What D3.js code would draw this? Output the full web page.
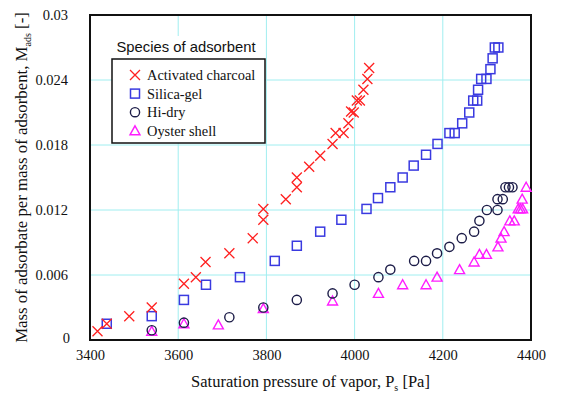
<!DOCTYPE html>
<html>
<head>
<meta charset="utf-8">
<script src="https://cdn.jsdelivr.net/npm/d3@7"></script>
<style>
  body { margin: 0; background: #fff; }
  svg { display: block; }
</style>
</head>
<body>
<div id="chart"></div>
<script>
// values, [pressure Pa, mass ratio]
const charcoal = [
  [3417, 0.0008], [3438, 0.0015], [3489, 0.0022], [3540, 0.0030], [3613, 0.0052],
  [3640, 0.0058], [3662, 0.0072], [3716, 0.0080], [3769, 0.0094], [3793, 0.0111],
  [3793, 0.0121], [3844, 0.0130], [3869, 0.0141], [3869, 0.0150], [3897, 0.0160],
  [3922, 0.0170], [3950, 0.0181], [3957, 0.0191], [3975, 0.0191], [3986, 0.0200],
  [3992, 0.0211], [3998, 0.0210], [4005, 0.0221], [4012, 0.0221], [4020, 0.0231],
  [4029, 0.0241], [4033, 0.0251]
];
const silicaGel = [
  [3438, 0.0015], [3540, 0.0022], [3613, 0.0037], [3663, 0.0051], [3740, 0.0058],
  [3819, 0.0073], [3869, 0.0087], [3922, 0.0100], [3970, 0.0111], [4027, 0.0121],
  [4053, 0.0131], [4081, 0.0141], [4109, 0.0150], [4134, 0.0161], [4162, 0.0171],
  [4188, 0.0181], [4215, 0.0191], [4227, 0.0191], [4244, 0.0200], [4260, 0.0210],
  [4269, 0.0221], [4278, 0.0221], [4280, 0.0231], [4287, 0.0241], [4299, 0.0241],
  [4308, 0.0250], [4313, 0.0260], [4318, 0.0270], [4326, 0.0270]
];
const hiDry = [
  [3540, 0.0009], [3613, 0.0016], [3716, 0.0021], [3793, 0.0030], [3869, 0.0037],
  [3950, 0.0043], [4000, 0.0051], [4054, 0.0058], [4081, 0.0065], [4135, 0.0073],
  [4162, 0.0073], [4187, 0.0080], [4215, 0.0086], [4243, 0.0094], [4271, 0.0100],
  [4283, 0.0110], [4300, 0.0120], [4324, 0.0120], [4324, 0.0130], [4336, 0.0130],
  [4342, 0.0141], [4350, 0.0141], [4358, 0.0141]
];
const oysterShell = [
  [3540, 0.0008], [3613, 0.0015], [3691, 0.0014], [3793, 0.0029], [3950, 0.0036],
  [4054, 0.0043], [4109, 0.0051], [4162, 0.0051], [4187, 0.0058], [4238, 0.0065],
  [4271, 0.0072], [4283, 0.0079], [4299, 0.0079], [4325, 0.0086], [4332, 0.0094],
  [4339, 0.0100], [4352, 0.0110], [4362, 0.0110], [4371, 0.0121], [4376, 0.0121],
  [4381, 0.0121], [4380, 0.0130], [4389, 0.0141]
];

const xTicks = [3400, 3600, 3800, 4000, 4200, 4400];
const yTicks = [0, 0.006, 0.012, 0.018, 0.024, 0.03];
const yTickLabels = ["0", "0.006", "0.012", "0.018", "0.024", "0.03"];
const seriesNames = ["Activated charcoal", "Silica-gel", "Hi-dry", "Oyster shell"];

const width = 561, height = 394;
const margin = { top: 15, right: 30, bottom: 54, left: 90 };
const serif = "'Liberation Serif', 'DejaVu Serif', serif";

const svg = d3.select("#chart").append("svg")
  .attr("width", width)
  .attr("height", height);

const x = d3.scaleLinear().domain([3400, 4400]).range([margin.left, width - margin.right]);
const y = d3.scaleLinear().domain([0, 0.03]).range([height - margin.bottom, margin.top]);

// grid lines (cyan)
svg.append("g").selectAll("line")
  .data(xTicks.slice(1, -1)).enter().append("line")
  .attr("x1", d => x(d)).attr("x2", d => x(d))
  .attr("y1", y(0)).attr("y2", y(0.03))
  .attr("stroke", "#a0eef0").attr("stroke-width", 1);
svg.append("g").selectAll("line")
  .data(yTicks.slice(1, -1)).enter().append("line")
  .attr("x1", x(3400)).attr("x2", x(4400))
  .attr("y1", d => y(d)).attr("y2", d => y(d))
  .attr("stroke", "#a0eef0").attr("stroke-width", 1);

// axes, only for labels
const xAxis = svg.append("g")
  .attr("transform", `translate(0,${y(0)})`)
  .call(d3.axisBottom(x).tickValues(xTicks).tickSize(0).tickPadding(10).tickFormat(d3.format("d")));
const yAxis = svg.append("g")
  .attr("transform", `translate(${x(3400)},0)`)
  .call(d3.axisLeft(y).tickValues(yTicks).tickSize(0).tickPadding(22)
    .tickFormat((d, i) => yTickLabels[i]));

[xAxis, yAxis].forEach(a => {
  a.select(".domain").remove();
  a.selectAll("text").attr("font-family", serif).attr("font-size", 14.5).attr("fill", "#111");
});
// the zero label sits lower, like in the original
yAxis.selectAll("text").filter(d => d === 0).attr("dy", "0.15em").attr("x", -20);

// frame
svg.append("rect")
  .attr("x", x(3400)).attr("y", y(0.03))
  .attr("width", x(4400) - x(3400)).attr("height", y(0) - y(0.03))
  .attr("fill", "none").attr("stroke", "#111").attr("stroke-width", 2);

// marker shapes
function drawMarker(g, kind) {
  if (kind === 0) {
    g.append("path").attr("d", "M-5,-5L5,5M-5,5L5,-5")
      .attr("stroke", "#ff2020").attr("stroke-width", 1.3).attr("fill", "none");
  } else if (kind === 1) {
    g.append("rect").attr("x", -4.5).attr("y", -4.5).attr("width", 9).attr("height", 9)
      .attr("stroke", "#3a3ae0").attr("stroke-width", 1.5).attr("fill", "none");
  } else if (kind === 2) {
    g.append("circle").attr("r", 4.6)
      .attr("stroke", "#1c1c48").attr("stroke-width", 1.4).attr("fill", "none");
  } else {
    g.append("path").attr("d", "M0,-5L5,4L-5,4Z")
      .attr("stroke", "#ff1cff").attr("stroke-width", 1.4).attr("fill", "none");
  }
}

const allSeries = [charcoal, silicaGel, hiDry, oysterShell];
// draw triangles and circles first so squares and crosses end up on top
[3, 2, 1, 0].forEach(k => {
  svg.append("g").selectAll("g")
    .data(allSeries[k]).enter().append("g")
    .attr("transform", d => `translate(${x(d[0])},${y(d[1])})`)
    .each(function() { drawMarker(d3.select(this), k); });
});

// legend
svg.append("rect").attr("x", 114).attr("y", 36).attr("width", 146).attr("height", 23).attr("fill", "#fff");
svg.append("text")
  .attr("x", 186).attr("y", 52)
  .attr("text-anchor", "middle")
  .attr("font-family", "'Liberation Sans', Arial, sans-serif")
  .attr("font-size", 14.8)
  .attr("fill", "#111")
  .text("Species of adsorbent");

svg.append("rect")
  .attr("x", 112).attr("y", 59).attr("width", 153).attr("height", 84)
  .attr("fill", "#fff").attr("stroke", "#111").attr("stroke-width", 1.5);

seriesNames.forEach((name, i) => {
  const ly = 75 + i * 18.6;
  const mg = svg.append("g").attr("transform", `translate(135,${ly})`);
  drawMarker(mg, i);
  svg.append("text")
    .attr("x", 147).attr("y", ly + 5)
    .attr("font-family", serif)
    .attr("font-size", 14.4)
    .attr("fill", "#111")
    .text(name);
});

// axis titles
const xTitle = svg.append("text")
  .attr("x", (x(3400) + x(4400)) / 2).attr("y", 387)
  .attr("text-anchor", "middle")
  .attr("font-family", serif).attr("font-size", 16.5).attr("fill", "#111");
xTitle.append("tspan").text("Saturation pressure of vapor, P");
xTitle.append("tspan").attr("font-size", 10).attr("dy", 4).text("s");
xTitle.append("tspan").attr("dy", -4).text(" [Pa]");

const yTitle = svg.append("text")
  .attr("transform", `translate(27,${(y(0) + y(0.03)) / 2}) rotate(-90)`)
  .attr("text-anchor", "middle")
  .attr("font-family", serif).attr("font-size", 16.8).attr("fill", "#111");
yTitle.append("tspan").text("Mass of adsorbate per mass of adsorbent, M");
yTitle.append("tspan").attr("font-size", 10).attr("dy", 4).text("ads");
yTitle.append("tspan").attr("dy", -4).text(" [-]");
</script>
</body>
</html>
